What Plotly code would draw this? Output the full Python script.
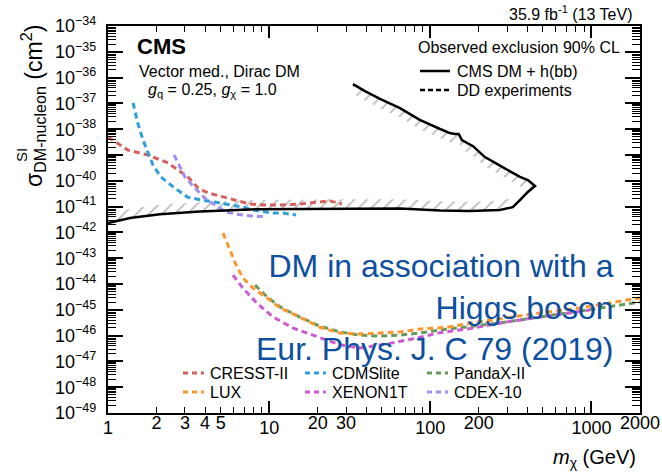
import numpy as np
import plotly.graph_objects as go

# ---------------- data ----------------
# CMS DM + h(bb) observed exclusion contour: lower branch (1 GeV -> tip)
cms_lower_m = [1, 1.37, 2.1, 3.72, 7.6, 15.5, 31.7, 64.8, 115, 176, 270, 325, 360, 403, 446]
cms_lower_s = [2.3e-42, 3.6e-42, 5.1e-42, 6.5e-42, 7.8e-42, 8.1e-42, 8.5e-42, 8.5e-42,
               7.1e-42, 6.8e-42, 7.4e-42, 9.5e-42, 1.8e-41, 3.7e-41, 6.3e-41]
# upper branch (tip -> low mass)
cms_upper_m = [403, 360, 299, 259, 218, 184, 157, 150, 142, 132, 115, 86, 64.8, 48.7, 39.3, 33.1]
cms_upper_s = [1.07e-40, 1.41e-40, 2.6e-40, 4.5e-40, 8.3e-40, 2.2e-39, 3.8e-39, 6.5e-39,
               6.5e-39, 7.1e-39, 1.02e-38, 2.3e-38, 6.6e-38, 1.5e-37, 3.0e-37, 5.6e-37]

cresst_m = [1, 1.33, 1.77, 2.36, 3.13, 3.62, 4.17, 5.55, 6.59, 7.6, 9.15, 11.7, 15.5, 20.7, 23.8, 28.3]
cresst_s = [5.0e-39, 1.55e-39, 1.0e-39, 4.9e-40, 1.41e-40, 5.2e-41, 3.4e-41, 2.1e-41,
            1.5e-41, 1.26e-41, 1.15e-41, 1.15e-41, 1.26e-41, 1.5e-41, 1.66e-41, 1.26e-41]

cdms_m = [1.43, 1.53, 1.65, 1.77, 1.90, 2.13, 2.60, 3.13, 3.78, 4.61, 5.96, 6.88, 7.94, 10.6, 12.2, 14.7]
cdms_s = [1.05e-37, 1.74e-38, 3.8e-39, 1.2e-39, 4.1e-40, 1.41e-40, 5.2e-41, 2.3e-41,
          1.8e-41, 1.5e-41, 1.15e-41, 9.5e-42, 7.4e-42, 5.6e-42, 5.6e-42, 4.7e-42]

cdex_m = [2.57, 2.8, 3.0, 3.46, 4.0, 4.61, 5.4, 6.3, 7.6, 9.7]
cdex_s = [1.0e-39, 3.4e-40, 1.41e-40, 5.2e-41, 2.1e-41, 1.15e-41, 6.2e-42, 5.1e-42, 4.4e-42, 4.0e-42]

lux_m = [5.17, 5.71, 6.31, 6.88, 7.94, 9.69, 11.7, 15.5, 20.7, 27.5, 36.6, 48.7, 64.8, 86.2,
         127, 184, 299, 478, 767, 1247, 2000]
lux_s = [9.5e-43, 2.1e-43, 4.6e-44, 1.7e-44, 6.9e-45, 2.9e-45, 1.17e-45, 5.2e-46, 2.1e-46,
         1.26e-46, 1.15e-46, 1.26e-46, 1.38e-46, 1.8e-46, 2.1e-46, 3.1e-46, 4.8e-46, 7.6e-46,
         1.07e-45, 1.8e-45, 2.9e-45]

pandax_m = [8.17, 9.69, 11.7, 15.5, 20.7, 27.5, 36.6, 48.7, 64.8, 86.2, 127, 184, 299, 478, 767, 1247, 2000]
pandax_s = [9.1e-45, 3.2e-45, 1.29e-45, 5.2e-46, 2.3e-46, 1.38e-46, 1.05e-46, 9.5e-47, 1.05e-46,
            1.26e-46, 1.8e-46, 2.3e-46, 3.4e-46, 5.2e-46, 8.1e-46, 1.29e-45, 2.0e-45]

xenon_m = [5.96, 6.88, 8.4, 10.6, 14.1, 19.8, 27.5, 36.6, 56.1, 78, 115, 184, 299, 478, 767, 977]
xenon_s = [2.2e-44, 6.9e-45, 1.8e-45, 5.2e-46, 1.95e-46, 8.9e-47, 4.4e-47, 3.3e-47, 5.0e-47,
           7.5e-47, 1.3e-46, 1.95e-46, 3.4e-46, 5.2e-46, 8.1e-46, 9.8e-46]

x_major = [1, 10, 100, 1000]
x_major_text = ["1", "10", "100", "1000"]
x_label_vals = [2, 3, 4, 5, 20, 30, 200, 2000]
x_label_text = ["2", "3", "4", "5", "20", "30", "200", "2000"]
y_exponents = list(range(-49, -33))

# ---------------- styling ----------------
FONT = "Liberation Sans, Arial, Helvetica, sans-serif"
W, H = 662, 473
L, R, T, B = 108, 22, 26, 60


def px(x):
    return (x - L) / (W - L - R)


def py(y):
    return (H - B - y) / (H - T - B)


dd = [
    ("CRESST-II", cresst_m, cresst_s, "rgb(214,96,92)"),
    ("CDMSlite", cdms_m, cdms_s, "rgb(45,160,220)"),
    ("PandaX-II", pandax_m, pandax_s, "rgb(100,155,90)"),
    ("LUX", lux_m, lux_s, "rgb(255,150,45)"),
    ("XENON1T", xenon_m, xenon_s, "rgb(205,90,210)"),
    ("CDEX-10", cdex_m, cdex_s, "rgb(165,140,245)"),
]

fig = go.Figure()

# hatched bands on the excluded side of the CMS contour
hatch = dict(shape="/", fgcolor="rgb(120,120,120)", bgcolor="rgba(0,0,0,0)", size=9, solidity=0.2)
lm = np.array(cms_lower_m, dtype=float)
ls = np.array(cms_lower_s, dtype=float)
um = np.array(cms_upper_m, dtype=float)
us = np.array(cms_upper_s, dtype=float)
off = 10 ** 0.36
fig.add_trace(go.Scatter(x=np.concatenate([lm[:-1], lm[:-1][::-1]]),
                         y=np.concatenate([ls[:-1], (ls[:-1] * off)[::-1]]),
                         mode="lines", line=dict(width=0), fill="toself",
                         fillcolor="rgba(0,0,0,0)", fillpattern=hatch,
                         showlegend=False, hoverinfo="skip"))
um2 = np.concatenate([[lm[-1]], um])
us2 = np.concatenate([[ls[-1]], us])
fig.add_trace(go.Scatter(x=np.concatenate([um2, um2[::-1]]),
                         y=np.concatenate([us2, (us2 / off)[::-1]]),
                         mode="lines", line=dict(width=0), fill="toself",
                         fillcolor="rgba(0,0,0,0)", fillpattern=hatch,
                         showlegend=False, hoverinfo="skip"))

for name, m, s, col in dd:
    fig.add_trace(go.Scatter(x=m, y=s, mode="lines", name=name,
                             line=dict(color=col, width=3, dash="6px,4px"),
                             showlegend=False))

# CMS contour on overlay axis (drawn on top)
fig.add_trace(go.Scatter(x=list(cms_lower_m) + list(cms_upper_m),
                         y=list(cms_lower_s) + list(cms_upper_s),
                         mode="lines", name="CMS DM + h(bb)",
                         line=dict(color="black", width=2.5),
                         xaxis="x2", showlegend=False))

x_minor = [k * 10 ** d for d in range(0, 4) for k in range(2, 10) if k * 10 ** d <= 2000]
y_major = [10.0 ** e for e in y_exponents]
y_major_text = ["10<sup>\u2212%d</sup>" % (-e) for e in y_exponents]
y_minor = [k * 10.0 ** e for e in range(-49, -34) for k in range(2, 10)]

fig.update_layout(
    width=W, height=H,
    margin=dict(l=L, r=R, t=T, b=B, pad=0, autoexpand=False),
    paper_bgcolor="white", plot_bgcolor="white",
    font=dict(family=FONT, color="black"),
    showlegend=False,
    xaxis=dict(type="log", range=[0, np.log10(2000)], tickvals=x_major,
               ticktext=x_major_text, automargin=False,
               ticks="inside", ticklen=12, tickwidth=1.5, tickcolor="black",
               minor=dict(tickvals=x_minor, ticks="inside", ticklen=6, tickwidth=1.2, tickcolor="black"),
               showline=True, linewidth=2, linecolor="black", mirror="ticks",
               showgrid=False, zeroline=False, tickfont=dict(size=18, family=FONT),
               ticklabelstandoff=-3),
    xaxis2=dict(type="log", range=[0, np.log10(2000)], overlaying="x", anchor="y", side="bottom",
                tickvals=x_label_vals, ticktext=x_label_text, automargin=False,
                ticks="inside", ticklen=6, tickwidth=1.2, tickcolor="black",
                showline=False, showgrid=False, zeroline=False,
                tickfont=dict(size=18, family=FONT), ticklabelstandoff=-3),
    yaxis=dict(type="log", range=[-49, -34], tickvals=y_major, ticktext=y_major_text,
               automargin=False,
               ticks="inside", ticklen=15, tickwidth=1.5, tickcolor="black",
               minor=dict(tickvals=y_minor, ticks="inside", ticklen=8, tickwidth=1, tickcolor="black"),
               showline=True, linewidth=2, linecolor="black", mirror="ticks",
               showgrid=False, zeroline=False, tickfont=dict(size=18, family=FONT),
               ticklabelstandoff=6),
)

ann = []


def text(t, x, y, size, xanchor="left", yanchor="middle", color="black", angle=0, align="left"):
    ann.append(dict(text=t, x=px(x), y=py(y), xref="paper", yref="paper", showarrow=False,
                    xanchor=xanchor, yanchor=yanchor, textangle=angle, align=align,
                    font=dict(size=size, color=color, family=FONT)))


text("σ<sub>DM-nucleon</sub> (cm<sup>2</sup>)", 33, 23, 23, xanchor="center", yanchor="top", angle=-90)
text("SI", 21, 155, 15, xanchor="center", yanchor="middle", angle=-90)
text("<i>m</i><sub>χ</sub> (GeV)", 638, 458, 20, xanchor="right")
text("35.9 fb<sup>-1</sup> (13 TeV)", 635, 13, 16, xanchor="right")
text("<b>CMS</b>", 135, 47, 22)
text("Vector med., Dirac DM", 137, 72, 16)
text("<i>g</i><sub>q</sub> = 0.25, <i>g</i><sub>χ</sub> = 1.0", 146, 90, 16)
text("Observed exclusion 90% CL", 622, 48, 16, xanchor="right")
text("CMS DM + h(bb)", 455, 71, 16)
text("DD experiments", 455, 90, 16)
text("DM in association with a<br>Higgs boson<br>Eur. Phys. J. C 79 (2019)", 616, 307, 32,
     xanchor="right", color="rgb(13,79,160)", align="right")

shapes = [
    dict(type="line", xref="paper", yref="paper", x0=px(420), x1=px(450), y0=py(71), y1=py(71),
         line=dict(color="black", width=2.5)),
    dict(type="line", xref="paper", yref="paper", x0=px(420), x1=px(450), y0=py(90), y1=py(90),
         line=dict(color="black", width=2.5, dash="5px,3px")),
]

col_x = [183, 305, 427]
row_y = [373, 392]
for i, (name, m, s, col) in enumerate(dd):
    cx = col_x[i % 3]
    ry = row_y[i // 3]
    shapes.append(dict(type="line", xref="paper", yref="paper", x0=px(cx), x1=px(cx + 21),
                       y0=py(ry), y1=py(ry), line=dict(color=col, width=3, dash="5px,4px")))
    text(name, cx + 25, ry, 16)

fig.update_layout(annotations=ann, shapes=shapes)

fig.write_html("out.html")
